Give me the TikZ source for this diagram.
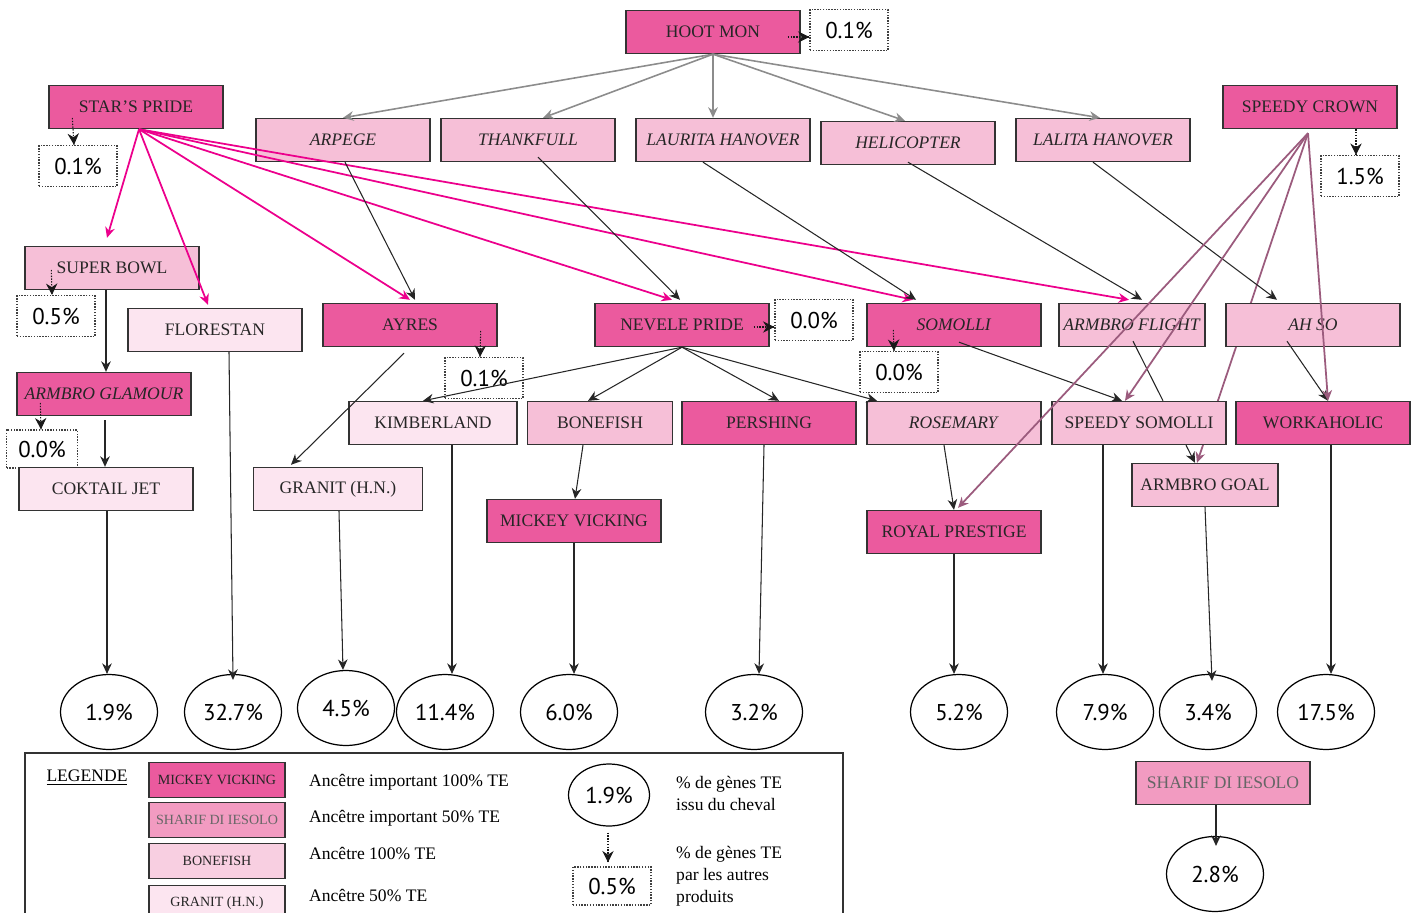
\documentclass[tikz,border=0pt]{standalone}
\usepackage{fontspec}
\setmainfont{Liberation Serif}
\newfontfamily\pctfont{PT Sans}
\usetikzlibrary{arrows.meta,positioning,calc,shapes.geometric,backgrounds,decorations.markings}
\definecolor{hotpink}{HTML}{EB5A9E}
\definecolor{midpink}{HTML}{F29BC1}
\definecolor{softpink}{HTML}{F6BFD7}
\definecolor{palepink}{HTML}{FCE5F0}
\definecolor{starline}{HTML}{EC008C}
\definecolor{crownline}{HTML}{9B5B7D}
\definecolor{hootline}{HTML}{8C8C8C}
\definecolor{boxline}{HTML}{333333}

\begin{document}
\begin{tikzpicture}[x=0.02cm,y=-0.02cm,font=\fontsize{10}{12}\selectfont,
  horse/.style={draw=boxline,line width=0.8pt,minimum width=3.48cm,minimum height=0.86cm,inner sep=1pt,text=black!85},
  imp/.style={horse,fill=hotpink},
  half/.style={horse,fill=midpink},
  full/.style={horse,fill=softpink},
  pale/.style={horse,fill=palepink},
  pct/.style={draw=black!75,fill=white,dash pattern=on 0.8pt off 0.8pt,line width=0.7pt,minimum width=1.56cm,minimum height=0.82cm,inner sep=0pt,font=\pctfont\fontsize{13}{15}\selectfont},
  res/.style={ellipse,draw,line width=0.7pt,fill=white,minimum width=1.94cm,minimum height=1.5cm,inner sep=0pt,font=\pctfont\fontsize{13}{15}\selectfont},
  keybox/.style={minimum width=2.72cm,minimum height=0.7cm,font=\fontsize{8}{10}\selectfont},
  note/.style={anchor=west,align=left,font=\fontsize{10}{12.5}\selectfont},
  link/.style={-{Stealth[length=6pt,width=5.5pt]},line width=0.6pt,black!85},
  wire/.style={line width=0.6pt,black!85},
  dots/.style={line width=0.6pt,black!90,dash pattern=on 0.8pt off 0.8pt,
    postaction={decorate,decoration={markings,mark=at position 1 with {\arrow[solid]{Stealth[length=6.5pt,width=6.5pt]}}}}},
  star/.style={link,starline,line width=1pt},
  crown/.style={link,crownline,line width=1pt},
  hoot/.style={link,hootline,line width=0.9pt}]
  \useasboundingbox (0,0) rectangle (1415,912);

  % top generation
  \node[imp] (hootmon) at (713,32) {HOOT MON};
  \node[pct] (hootpct) at (849,30) {0.1\%};
  \node[imp] (starspride) at (136,107) {STAR'S PRIDE};
  \node[pct] (starpct) at (78,166) {0.1\%};
  \node[imp] (speedycrown) at (1310,107) {SPEEDY CROWN};
  \node[pct] (crownpct) at (1360,176) {1.5\%};
  \node[full] (arpege) at (343,140) {\textit{ARPEGE}};
  \node[full] (thankfull) at (528,140) {\textit{THANKFULL}};
  \node[full] (laurita) at (723,140) {\textit{LAURITA HANOVER}};
  \node[full] (helicopter) at (908,143) {\textit{HELICOPTER}};
  \node[full] (lalita) at (1103,140) {\textit{LALITA HANOVER}};

  % sons
  \node[full] (superbowl) at (112,268) {SUPER BOWL};
  \node[pct] (bowlpct) at (56,316) {0.5\%};
  \node[pale] (florestan) at (215,330) {FLORESTAN};
  \node[imp] (ayres) at (410,325) {AYRES};
  \node[pct] (ayrespct) at (484,378) {0.1\%};
  \node[imp] (nevele) at (682,325) {NEVELE PRIDE};
  \node[pct] (nevelepct) at (814,320) {0.0\%};
  \node[imp] (somolli) at (954,325) {\textit{SOMOLLI}};
  \node[pct] (somollipct) at (899,372) {0.0\%};
  \node[full,minimum width=2.92cm] (flight) at (1132,325) {\textit{ARMBRO FLIGHT}};
  \node[full] (ahso) at (1313,325) {\textit{AH SO}};

  % grandsons
  \node[imp] (glamour) at (104,394) {\textit{ARMBRO GLAMOUR}};
  \node[pct,minimum width=1.42cm,minimum height=0.76cm] (glamourpct) at (42,449) {0.0\%};
  \node[pale,minimum width=3.36cm] (kimberland) at (433,423) {KIMBERLAND};
  \node[full,minimum width=2.9cm] (bonefish) at (600,423) {BONEFISH};
  \node[imp] (pershing) at (769,423) {PERSHING};
  \node[full] (rosemary) at (954,423) {\textit{ROSEMARY}};
  \node[full] (speedysomolli) at (1139,423) {SPEEDY SOMOLLI};
  \node[imp] (workaholic) at (1323,423) {WORKAHOLIC};
  \node[pale] (coktail) at (106,489) {COKTAIL JET};
  \node[pale,minimum width=3.38cm] (granit) at (338,489) {GRANIT (H.N.)};
  \node[full,minimum width=2.92cm] (goal) at (1205,485) {ARMBRO GOAL};
  \node[imp] (mickey) at (574,521) {MICKEY VICKING};
  \node[imp] (royal) at (954,532) {ROYAL PRESTIGE};
  \node[half,text=black!60] (sharif) at (1223,783) {SHARIF DI IESOLO};

  % results
  \node[res] (rcoktail) at (109,712) {1.9\%};
  \node[res] (rflorestan) at (233,712) {32.7\%};
  \node[res] (rgranit) at (346,708) {4.5\%};
  \node[res] (rkimberland) at (445,712) {11.4\%};
  \node[res] (rmickey) at (569,712) {6.0\%};
  \node[res] (rpershing) at (754,712) {3.2\%};
  \node[res] (rroyal) at (959,712) {5.2\%};
  \node[res] (rspeedy) at (1105,712) {7.9\%};
  \node[res] (rgoal) at (1208,712) {3.4\%};
  \node[res] (rworkaholic) at (1326,712) {17.5\%};
  \node[res] (rsharif) at (1215,874) {2.8\%};

  % Hoot Mon
  \draw[hoot] (hootmon.south) -- (arpege.north);
  \draw[hoot] (hootmon.south) -- ($(thankfull.north)+(15,0)$);
  \draw[hoot] (hootmon.south) -- ($(laurita.north)+(-10,0)$);
  \draw[hoot] (hootmon.south) -- ($(helicopter.north)+(-3,0)$);
  \draw[hoot] (hootmon.south) -- ($(lalita.north)+(-3,0)$);
  \draw[dots] ($(hootmon.east)+(-13,5)$) -- ($(hootpct.west)+(0,7)$);

  % Star's Pride
  \draw[dots] ($(starspride.west)+(24,11)$) -- ($(starpct.north)+(-4,0)$);
  \draw[star] ($(starspride.south)+(3,0)$) -- ($(superbowl.north)+(-5,-8)$);
  \draw[star] ($(starspride.south)+(3,0)$) -- ($(florestan.north)+(-7,-3)$);
  \draw[star] ($(starspride.south)+(3,0)$) -- ($(ayres.north)+(0,-3)$);
  \draw[star] ($(starspride.south)+(3,0)$) -- ($(nevele.north)+(-10,-3)$);
  \draw[star] ($(starspride.south)+(3,0)$) -- ($(somolli.north)+(-41,-3)$);
  \draw[star] ($(starspride.south)+(3,0)$) -- ($(flight.north)+(-3,-3)$);

  % dams to sons
  \draw[link] ($(arpege.south)+(2,0)$) -- ($(ayres.north)+(5,-3)$);
  \draw[link] ($(thankfull.south)+(10,-5)$) -- ($(nevele.north)+(-2,-3)$);
  \draw[link] ($(laurita.south)+(-20,0)$) -- ($(somolli.north)+(-38,-3)$);
  \draw[link] ($(helicopter.south)+(0,-3)$) -- ($(flight.north)+(10,-3)$);
  \draw[link] ($(lalita.south)+(-10,0)$) -- ($(ahso.north)+(-36,-3)$);

  % left side
  \draw[dots] ($(superbowl.west)+(27,2)$) -- ($(bowlpct.north)+(-4,0)$);
  \draw[link] ($(superbowl.south)+(-6,0)$) -- ($(glamour.north)+(2,0)$);
  \draw[dots] ($(glamour.west)+(24,9)$) -- ($(glamourpct.north)+(-1,0)$);
  \draw[link] ($(glamour.south)+(1,4)$) -- ($(coktail.north)+(-1,0)$);
  \draw[link] ($(coktail.south)+(1,0)$) -- ($(rcoktail.north)+(-2,0)$);
  \draw[link] ($(florestan.south)+(14,0)$) -- ($(rflorestan.north)+(0,6)$);

  % Ayres, Nevele Pride
  \draw[link] ($(ayres.south)+(-6,6)$) -- ($(granit.north)+(-47,-2)$);
  \draw[dots] ($(ayres.east)+(-17,6)$) -- ($(ayrespct.north)+(-4,0)$);
  \draw[link] ($(granit.south)+(1,0)$) -- ($(rgranit.north)+(-3,0)$);
  \draw[link] (nevele.south) -- ($(kimberland.north)+(-10,0)$);
  \draw[link] (nevele.south) -- ($(bonefish.north)+(-12,0)$);
  \draw[link] (nevele.south) -- ($(pershing.north)+(10,0)$);
  \draw[link] (nevele.south) -- ($(rosemary.north)+(-77,0)$);
  \draw[dots] ($(nevele.east)+(-16,2)$) -- ($(nevelepct.west)+(0,7)$);
  \draw[link] ($(kimberland.south)+(19,0)$) -- ($(rkimberland.north)+(7,0)$);
  \draw[link] ($(bonefish.south)+(-17,0)$) -- ($(mickey.north)+(1,0)$);
  \draw[link] (mickey.south) -- ($(rmickey.north)+(5,0)$);
  \draw[link] ($(pershing.south)+(-5,0)$) -- ($(rpershing.north)+(5,0)$);

  % Somolli, Armbro Flight, Ah So
  \draw[dots] ($(somolli.west)+(27,5)$) -- ($(somollipct.north)+(-5,0)$);
  \draw[link] ($(somolli.south)+(5,-5)$) -- ($(speedysomolli.north)+(-17,0)$);
  \draw[wire] ($(flight.south)+(1,-6)$) -- ($(speedysomolli.north)+(24,0)$);
  \draw[link] ($(ahso.south)+(-26,-6)$) -- ($(workaholic.north)+(5,0)$);
  \draw[link] ($(rosemary.south)+(-10,0)$) -- (royal.north);
  \draw[link] ($(speedysomolli.south)+(47,0)$) -- ($(goal.north)+(-10,0)$);
  \draw[link] (royal.south) -- ($(rroyal.north)+(-5,0)$);
  \draw[link] ($(speedysomolli.south)+(-36,0)$) -- ($(rspeedy.north)+(-2,0)$);
  \draw[link] (goal.south) -- ($(rgoal.north)+(4,7)$);
  \draw[link] ($(workaholic.south)+(8,0)$) -- ($(rworkaholic.north)+(5,0)$);
  \draw[link] ($(sharif.south)+(-7,0)$) -- ($(rsharif.north)+(1,10)$);

  % Speedy Crown
  \draw[dots] ($(speedycrown.south)+(46,0)$) -- ($(crownpct.north)+(-4,0)$);
  \draw[crown] ($(speedycrown.south)+(-2,4)$) -- ($(royal.north)+(4,-2)$);
  \draw[crown] ($(speedycrown.south)+(-2,4)$) -- ($(speedysomolli.north)+(-14,0)$);
  \draw[crown] ($(speedycrown.south)+(-2,4)$) -- ($(workaholic.north)+(5,0)$);
  \begin{scope}[on background layer]
    \draw[crown] ($(speedycrown.south)+(-2,4)$) -- ($(goal.north)+(-8,0)$);
  \end{scope}

  % legend
  \draw[boxline,line width=0.8pt] (25,753) rectangle (843,940);
  \node (legende) at (87,778) {\underline{LEGENDE}};
  \node[imp,keybox] (keyimp) at (217,780) {MICKEY VICKING};
  \node[half,keybox,text=black!60] (keyhalf) at (217,820) {SHARIF DI IESOLO};
  \node[full,keybox,fill=softpink!75] (keyfull) at (217,861) {BONEFISH};
  \node[pale,keybox] (keypale) at (217,903) {GRANIT (H.N.)};
  \node[note] (textimp) at (303,782) {Ancêtre important 100\% TE};
  \node[note] (texthalf) at (303,818) {Ancêtre important 50\% TE};
  \node[note] (textfull) at (303,853) {Ancêtre 100\% TE};
  \node[note] (textpale) at (303,895) {Ancêtre 50\% TE};
  \node[res,minimum width=1.62cm,minimum height=1.24cm] (keyres) at (609,795) {1.9\%};
  \node[pct,minimum height=0.76cm] (keypct) at (612,886) {0.5\%};
  \draw[dots] ($(keyres.south)+(-1,6)$) -- ($(keypct.north)+(-4,-4)$);
  \node[note] (textres) at (670,793) {\% de gènes TE\\issu du cheval};
  \node[note] (textpct) at (670,876) {\% de gènes TE\\par les autres\\produits};
\end{tikzpicture}
\end{document}
